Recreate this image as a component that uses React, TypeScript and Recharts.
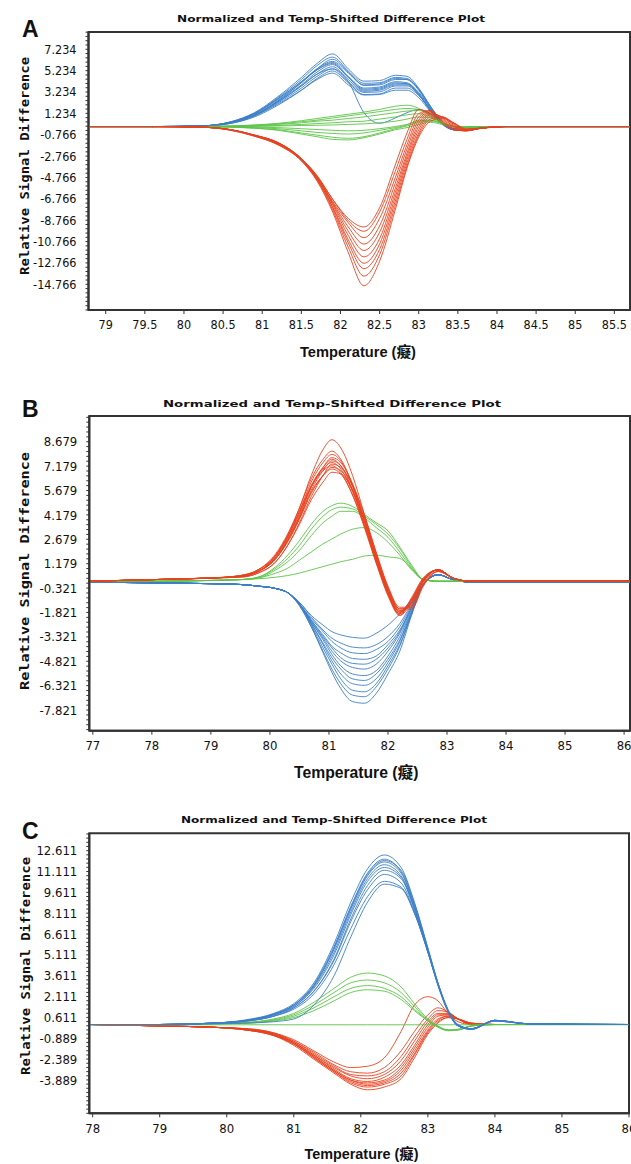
import React from 'react';
import { LineChart, Line, XAxis, YAxis, ReferenceArea } from 'recharts';

// ---------------- Panel A ----------------
const xA = [78.8, 79.6, 80.2, 80.6, 80.9, 81.2, 81.5, 81.7, 81.9, 82.1, 82.3, 82.5, 82.7, 82.85, 83.0, 83.15, 83.3, 83.45, 83.6, 83.8, 84.1, 85.7];
const blueA = [
  [0, 0, 0.05, 0.45, 1.3, 2.8, 4.6, 5.9, 6.8, 5.4, 4.25, 4.3, 4.8, 4.7, 3.6, 1.9, 0.4, -0.3, -0.35, -0.15, 0, 0],
  [0, 0, 0.05, 0.4, 1.2, 2.7, 4.4, 5.7, 6.5, 5.2, 4.05, 4.1, 4.6, 4.5, 3.5, 1.8, 0.35, -0.3, -0.35, -0.15, 0, 0],
  [0, 0, 0.03, 0.3, 1.0, 2.4, 4.1, 5.4, 6.3, 5.1, 3.85, 3.9, 4.4, 4.4, 3.5, 1.9, 0.45, -0.25, -0.35, -0.15, 0, 0],
  [0, 0, 0.05, 0.4, 1.2, 2.5, 4.1, 5.3, 6.0, 4.7, 3.6, 3.7, 4.2, 4.1, 3.1, 1.5, 0.2, -0.3, -0.35, -0.15, 0, 0],
  [0, 0, 0.04, 0.35, 1.1, 2.4, 3.9, 5.1, 5.8, 4.6, 3.5, 3.6, 4.1, 4.0, 3.0, 1.5, 0.25, -0.3, -0.3, -0.1, 0, 0],
  [0, 0, 0.05, 0.4, 1.1, 2.3, 3.8, 4.9, 5.6, 4.4, 3.3, 3.4, 3.9, 3.9, 3.0, 1.5, 0.3, -0.25, -0.3, -0.1, 0, 0],
  [0, 0, 0.04, 0.35, 1.0, 2.2, 3.6, 4.7, 5.4, 4.2, 3.2, 3.25, 3.8, 3.8, 3.0, 1.6, 0.35, -0.25, -0.3, -0.1, 0, 0],
  [0, 0, 0.03, 0.3, 0.9, 2.0, 3.4, 4.5, 5.2, 4.1, 3.0, 3.05, 3.6, 3.6, 2.9, 1.6, 0.4, -0.2, -0.3, -0.1, 0, 0],
  [0, 0, 0.04, 0.35, 1.0, 2.1, 3.4, 4.4, 5.0, 3.9, 2.95, 3.0, 3.4, 3.4, 2.7, 1.4, 0.3, -0.25, -0.3, -0.1, 0, 0],
  [0, 0, 0.05, 0.4, 1.1, 2.3, 3.8, 4.9, 5.4, 4.2, 1.3, 0.3, 0.8, 1.3, 1.6, 1.2, 0.3, -0.2, -0.25, -0.1, 0, 0],
  [0, 0, 0.05, 0.4, 1.2, 2.6, 4.2, 5.4, 6.1, 5.0, 3.9, 4.0, 4.5, 4.4, 3.4, 1.7, 0.3, -0.3, -0.35, -0.15, 0, 0],
  [0, 0, 0.05, 0.45, 1.25, 2.6, 4.2, 5.3, 5.9, 4.6, 3.4, 3.5, 4.0, 4.0, 3.2, 1.7, 0.35, -0.3, -0.3, -0.1, 0, 0],
];
const greenA = [
  [0, 0, 0, 0.05, 0.15, 0.3, 0.55, 0.75, 0.95, 1.15, 1.35, 1.6, 1.9, 2.0, 1.7, 1.0, 0.3, 0, -0.1, 0, 0, 0],
  [0, 0, 0, 0.05, 0.12, 0.25, 0.45, 0.6, 0.8, 1.0, 1.2, 1.4, 1.6, 1.7, 1.6, 1.1, 0.4, 0, -0.1, 0, 0, 0],
  [0, 0, 0, 0.03, 0.1, 0.2, 0.35, 0.5, 0.6, 0.75, 0.9, 1.1, 1.3, 1.45, 1.5, 1.1, 0.4, 0, -0.1, 0, 0, 0],
  [0, 0, 0, 0.02, 0.05, 0.1, 0.2, 0.28, 0.35, 0.45, 0.5, 0.7, 0.9, 1.1, 1.2, 0.9, 0.4, 0, -0.1, 0, 0, 0],
  [0, 0, 0, 0, 0.02, 0.05, 0.1, 0.12, 0.15, 0.2, 0.25, 0.35, 0.5, 0.7, 0.9, 0.8, 0.35, 0, -0.05, 0, 0, 0],
  [0, 0, 0, -0.02, -0.05, -0.1, -0.2, -0.28, -0.35, -0.4, -0.35, -0.2, 0.0, 0.2, 0.5, 0.6, 0.3, 0, -0.05, 0, 0, 0],
  [0, 0, 0, -0.03, -0.1, -0.2, -0.4, -0.55, -0.65, -0.7, -0.6, -0.35, -0.1, 0.15, 0.6, 0.6, 0.3, 0, -0.05, 0, 0, 0],
  [0, 0, 0, -0.05, -0.15, -0.3, -0.6, -0.8, -1.0, -1.1, -0.95, -0.6, -0.2, 0.05, 0.4, 0.5, 0.3, 0, -0.05, 0, 0, 0],
  [0, 0, 0, -0.05, -0.15, -0.35, -0.7, -0.95, -1.2, -1.25, -1.05, -0.7, -0.3, -0.1, 0.2, 0.4, 0.2, 0, -0.05, 0, 0, 0],
];
const redA = [
  [0, 0, -0.05, -0.3, -0.8, -1.5, -3.0, -4.6, -6.8, -8.6, -9.4, -7.6, -3.6, -0.6, 1.6, 1.2, 0.3, -0.3, -0.4, -0.15, 0, 0],
  [0, 0, -0.05, -0.3, -0.8, -1.5, -3.0, -4.6, -6.8, -8.8, -9.8, -8.0, -4.2, -1.2, 1.2, 1.5, 0.5, -0.3, -0.4, -0.15, 0, 0],
  [0, 0, -0.05, -0.3, -0.8, -1.5, -3.0, -4.7, -7.0, -9.0, -10.4, -8.6, -4.8, -1.7, 0.9, 1.5, 0.6, -0.2, -0.4, -0.15, 0, 0],
  [0, 0, -0.05, -0.3, -0.8, -1.5, -3.0, -4.7, -7.1, -9.4, -11.0, -9.3, -5.3, -2.1, 0.6, 1.4, 0.7, -0.1, -0.4, -0.15, 0, 0],
  [0, 0, -0.05, -0.3, -0.85, -1.6, -3.1, -4.8, -7.2, -9.8, -11.6, -9.9, -5.8, -2.5, 0.3, 1.3, 0.8, 0, -0.35, -0.15, 0, 0],
  [0, 0, -0.05, -0.3, -0.85, -1.6, -3.1, -4.8, -7.3, -10.2, -12.2, -10.5, -6.2, -2.8, 0.0, 1.2, 0.9, 0.1, -0.35, -0.15, 0, 0],
  [0, 0, -0.05, -0.3, -0.85, -1.6, -3.1, -4.9, -7.5, -10.6, -12.8, -11.0, -6.6, -3.1, -0.3, 1.1, 0.9, 0.2, -0.3, -0.15, 0, 0],
  [0, 0, -0.05, -0.3, -0.85, -1.6, -3.1, -4.9, -7.6, -10.9, -13.3, -11.5, -7.0, -3.4, -0.6, 0.9, 0.9, 0.3, -0.3, -0.15, 0, 0],
  [0, 0, -0.05, -0.35, -0.9, -1.7, -3.2, -5.0, -7.8, -11.3, -14.0, -12.0, -7.4, -3.7, -0.8, 0.7, 0.9, 0.3, -0.25, -0.15, 0, 0],
  [0, 0, -0.05, -0.35, -0.9, -1.7, -3.2, -5.1, -8.0, -11.8, -14.9, -12.6, -7.8, -3.9, -1.0, 0.5, 0.8, 0.35, -0.2, -0.15, 0, 0],
];
const xTicksA = [79, 79.5, 80, 80.5, 81, 81.5, 82, 82.5, 83, 83.5, 84, 84.5, 85, 85.5];
const yTicksA = [7.234, 5.234, 3.234, 1.234, -0.766, -2.766, -4.766, -6.766, -8.766, -10.766, -12.766, -14.766];

// ---------------- Panel B ----------------
const xB = [76.95, 78.0, 79.0, 79.5, 79.8, 80.1, 80.3, 80.5, 80.7, 80.9, 81.05, 81.2, 81.4, 81.6, 81.8, 82.0, 82.2, 82.4, 82.6, 82.85, 83.1, 83.4, 84.0, 86.1];
const blueB = [
  [0.05, 0, -0.05, -0.1, -0.2, -0.35, -0.6, -1.4, -2.7, -4.3, -5.5, -6.5, -7.3, -7.4, -6.8, -5.6, -4.2, -2.0, -0.1, 0.5, 0.2, 0.05, 0.05, 0.05],
  [0.05, 0, -0.05, -0.1, -0.2, -0.35, -0.6, -1.4, -2.7, -4.2, -5.3, -6.2, -6.9, -7.0, -6.4, -5.3, -3.9, -1.9, -0.1, 0.5, 0.2, 0.05, 0.05, 0.05],
  [0.05, 0, -0.05, -0.1, -0.2, -0.35, -0.6, -1.3, -2.6, -4.0, -5.0, -5.9, -6.6, -6.7, -6.2, -5.1, -3.8, -1.9, -0.1, 0.5, 0.2, 0.05, 0.05, 0.05],
  [0.05, 0, -0.05, -0.1, -0.2, -0.35, -0.6, -1.3, -2.5, -3.8, -4.8, -5.6, -6.2, -6.3, -5.9, -4.9, -3.6, -1.8, -0.1, 0.5, 0.2, 0.05, 0.05, 0.05],
  [0.05, 0, -0.05, -0.1, -0.2, -0.35, -0.6, -1.3, -2.5, -3.7, -4.6, -5.3, -5.9, -6.0, -5.6, -4.7, -3.5, -1.8, -0.1, 0.5, 0.2, 0.05, 0.05, 0.05],
  [0.05, 0, -0.05, -0.1, -0.2, -0.35, -0.6, -1.3, -2.4, -3.5, -4.4, -5.1, -5.6, -5.7, -5.4, -4.5, -3.3, -1.7, -0.1, 0.5, 0.2, 0.05, 0.05, 0.05],
  [0.05, 0, -0.05, -0.1, -0.2, -0.35, -0.6, -1.3, -2.4, -3.4, -4.2, -4.8, -5.2, -5.3, -5.0, -4.2, -3.1, -1.6, -0.1, 0.5, 0.2, 0.05, 0.05, 0.05],
  [0.05, 0, -0.05, -0.1, -0.2, -0.35, -0.6, -1.3, -2.3, -3.3, -4.0, -4.6, -4.95, -5.0, -4.7, -4.0, -3.0, -1.5, -0.1, 0.5, 0.2, 0.05, 0.05, 0.05],
  [0.05, 0, -0.05, -0.1, -0.2, -0.35, -0.6, -1.3, -2.3, -3.2, -3.9, -4.3, -4.65, -4.7, -4.5, -3.8, -2.9, -1.5, -0.1, 0.5, 0.2, 0.05, 0.05, 0.05],
  [0.05, 0, -0.05, -0.1, -0.2, -0.35, -0.6, -1.3, -2.2, -3.0, -3.6, -4.0, -4.3, -4.35, -4.1, -3.6, -2.7, -1.4, -0.1, 0.5, 0.2, 0.05, 0.05, 0.05],
  [0.05, 0, -0.05, -0.1, -0.2, -0.35, -0.6, -1.2, -2.1, -2.9, -3.4, -3.7, -3.95, -4.0, -3.8, -3.3, -2.5, -1.3, -0.1, 0.5, 0.2, 0.05, 0.05, 0.05],
  [0.05, 0, -0.05, -0.1, -0.2, -0.35, -0.6, -1.2, -2.0, -2.6, -3.0, -3.2, -3.35, -3.4, -3.1, -2.6, -1.9, -1.0, -0.1, 0.5, 0.2, 0.05, 0.05, 0.05],
];
const greenB = [
  [0.1, 0.1, 0.15, 0.2, 0.35, 1.0, 1.7, 2.6, 3.6, 4.4, 4.75, 4.9, 4.7, 4.2, 3.7, 3.2, 2.2, 1.1, 0.2, 0.1, 0.1, 0.1, 0.1, 0.1],
  [0.1, 0.1, 0.15, 0.2, 0.35, 0.9, 1.5, 2.3, 3.3, 4.1, 4.5, 4.65, 4.55, 4.1, 3.6, 3.0, 2.1, 1.0, 0.2, 0.1, 0.1, 0.1, 0.1, 0.1],
  [0.1, 0.1, 0.15, 0.2, 0.3, 0.8, 1.3, 2.0, 2.9, 3.7, 4.1, 4.4, 4.4, 4.0, 3.4, 2.8, 1.9, 0.9, 0.2, 0.1, 0.1, 0.1, 0.1, 0.1],
  [0.1, 0.1, 0.15, 0.2, 0.3, 0.6, 0.9, 1.4, 1.9, 2.4, 2.7, 3.0, 3.3, 3.4, 3.1, 2.5, 1.7, 0.8, 0.2, 0.1, 0.1, 0.1, 0.1, 0.1],
  [0.1, 0.1, 0.15, 0.2, 0.25, 0.35, 0.45, 0.6, 0.8, 1.0, 1.15, 1.3, 1.45, 1.65, 1.7, 1.6, 1.5, 0.9, 0.2, 0.1, 0.1, 0.1, 0.1, 0.1],
];
const redB = [
  [0.1, 0.2, 0.3, 0.4, 0.7, 1.7, 2.9, 4.6, 6.6, 8.2, 8.8, 8.3, 6.6, 4.2, 1.6, -0.6, -2.0, -1.2, 0.2, 0.8, 0.3, 0.1, 0.1, 0.1],
  [0.1, 0.2, 0.3, 0.45, 0.8, 1.8, 3.0, 4.6, 6.4, 7.6, 8.1, 7.6, 6.0, 3.8, 1.4, -0.7, -1.9, -1.1, 0.2, 0.8, 0.3, 0.1, 0.1, 0.1],
  [0.1, 0.2, 0.3, 0.4, 0.7, 1.6, 2.8, 4.4, 6.2, 7.4, 7.9, 7.5, 6.0, 3.9, 1.6, -0.5, -1.8, -1.2, 0.1, 0.8, 0.3, 0.1, 0.1, 0.1],
  [0.1, 0.2, 0.3, 0.4, 0.7, 1.5, 2.6, 4.1, 5.9, 7.1, 7.7, 7.4, 6.1, 4.1, 1.8, -0.3, -1.6, -1.4, 0.0, 0.7, 0.3, 0.1, 0.1, 0.1],
  [0.1, 0.2, 0.3, 0.45, 0.8, 1.7, 2.9, 4.4, 6.0, 7.1, 7.6, 7.2, 5.7, 3.6, 1.3, -0.7, -1.9, -1.0, 0.2, 0.8, 0.3, 0.1, 0.1, 0.1],
  [0.1, 0.2, 0.3, 0.4, 0.7, 1.5, 2.6, 4.0, 5.7, 6.9, 7.5, 7.2, 5.9, 3.9, 1.6, -0.4, -1.7, -1.3, 0.1, 0.8, 0.3, 0.1, 0.1, 0.1],
  [0.1, 0.2, 0.3, 0.4, 0.7, 1.6, 2.7, 4.2, 5.9, 7.0, 7.4, 7.0, 5.6, 3.6, 1.4, -0.6, -1.8, -1.0, 0.3, 0.8, 0.3, 0.1, 0.1, 0.1],
  [0.1, 0.2, 0.3, 0.35, 0.6, 1.3, 2.3, 3.7, 5.3, 6.6, 7.3, 7.1, 6.0, 4.2, 1.9, -0.2, -1.5, -1.5, -0.1, 0.7, 0.3, 0.1, 0.1, 0.1],
  [0.1, 0.2, 0.3, 0.45, 0.8, 1.7, 2.8, 4.3, 5.9, 6.9, 7.2, 6.8, 5.4, 3.4, 1.2, -0.8, -2.0, -0.9, 0.3, 0.8, 0.3, 0.1, 0.1, 0.1],
  [0.1, 0.2, 0.3, 0.4, 0.7, 1.5, 2.5, 3.9, 5.5, 6.6, 7.1, 6.9, 5.7, 3.8, 1.6, -0.4, -1.7, -1.2, 0.1, 0.8, 0.3, 0.1, 0.1, 0.1],
  [0.1, 0.2, 0.3, 0.4, 0.7, 1.5, 2.6, 4.0, 5.6, 6.6, 7.0, 6.7, 5.4, 3.5, 1.3, -0.6, -1.8, -1.1, 0.2, 0.8, 0.3, 0.1, 0.1, 0.1],
  [0.1, 0.2, 0.3, 0.35, 0.6, 1.3, 2.3, 3.6, 5.1, 6.2, 6.8, 6.7, 5.7, 3.9, 1.8, -0.3, -1.6, -1.6, -0.2, 0.7, 0.3, 0.1, 0.1, 0.1],
];
const xTicksB = [77, 78, 79, 80, 81, 82, 83, 84, 85, 86];
const yTicksB = [8.679, 7.179, 5.679, 4.179, 2.679, 1.179, -0.321, -1.821, -3.321, -4.821, -6.321, -7.821];

// ---------------- Panel C ----------------
const xC = [77.95, 79.0, 79.8, 80.3, 80.7, 81.0, 81.3, 81.6, 81.85, 82.1, 82.35, 82.6, 82.8, 83.0, 83.15, 83.3, 83.45, 83.65, 84.0, 84.5, 86.0];
const blueC = [
  [0.1, 0.1, 0.2, 0.45, 0.9, 1.6, 3.1, 5.9, 8.9, 11.3, 12.3, 11.4, 8.9, 5.6, 3.1, 1.1, 0.0, -0.25, 0.4, 0.15, 0.1],
  [0.1, 0.1, 0.2, 0.4, 0.85, 1.5, 3.0, 5.7, 8.6, 11.0, 12.0, 11.1, 8.7, 5.5, 3.0, 1.1, 0.0, -0.25, 0.4, 0.15, 0.1],
  [0.1, 0.1, 0.2, 0.4, 0.8, 1.5, 2.9, 5.5, 8.4, 10.8, 11.8, 11.0, 8.6, 5.4, 3.0, 1.1, 0.0, -0.2, 0.4, 0.15, 0.1],
  [0.1, 0.1, 0.2, 0.4, 0.8, 1.4, 2.8, 5.3, 8.2, 10.6, 11.6, 10.8, 8.5, 5.4, 3.0, 1.1, 0.05, -0.2, 0.4, 0.15, 0.1],
  [0.1, 0.1, 0.2, 0.4, 0.8, 1.4, 2.7, 5.1, 8.0, 10.4, 11.4, 10.7, 8.4, 5.3, 2.9, 1.0, 0.0, -0.2, 0.4, 0.15, 0.1],
  [0.1, 0.1, 0.2, 0.35, 0.7, 1.3, 2.5, 4.8, 7.7, 10.1, 11.2, 10.6, 8.4, 5.4, 3.0, 1.1, 0.05, -0.2, 0.4, 0.15, 0.1],
  [0.1, 0.1, 0.2, 0.35, 0.7, 1.3, 2.5, 4.7, 7.5, 9.8, 10.9, 10.3, 8.2, 5.3, 3.0, 1.1, 0.05, -0.2, 0.35, 0.15, 0.1],
  [0.1, 0.1, 0.2, 0.35, 0.7, 1.2, 2.3, 4.4, 7.0, 9.3, 10.4, 10.0, 8.1, 5.3, 3.0, 1.1, 0.05, -0.2, 0.35, 0.15, 0.1],
  [0.1, 0.1, 0.15, 0.2, 0.3, 0.5, 1.5, 3.6, 6.4, 8.9, 10.2, 9.9, 8.1, 5.4, 3.1, 1.2, 0.1, -0.2, 0.35, 0.15, 0.1],
  [0.1, 0.1, 0.2, 0.4, 0.85, 1.5, 2.9, 5.6, 8.5, 10.9, 11.9, 11.2, 8.8, 5.6, 3.1, 1.1, 0.0, -0.25, 0.4, 0.15, 0.1],
];
const greenC = [
  [0.1, 0.1, 0.15, 0.25, 0.5, 0.9, 1.7, 2.7, 3.5, 3.8, 3.6, 2.8, 1.6, 0.5, 0.0, -0.3, -0.3, 0.0, 0.1, 0.1, 0.1],
  [0.1, 0.1, 0.15, 0.25, 0.45, 0.8, 1.5, 2.4, 3.1, 3.3, 3.1, 2.4, 1.4, 0.4, -0.1, -0.35, -0.3, 0.0, 0.1, 0.1, 0.1],
  [0.1, 0.1, 0.15, 0.2, 0.4, 0.7, 1.3, 2.1, 2.7, 2.9, 2.7, 2.1, 1.2, 0.4, -0.05, -0.3, -0.25, 0.0, 0.1, 0.1, 0.1],
  [0.1, 0.1, 0.15, 0.2, 0.35, 0.6, 1.1, 1.8, 2.4, 2.6, 2.5, 1.9, 1.1, 0.35, -0.05, -0.3, -0.25, 0.0, 0.1, 0.1, 0.1],
  [0.08, 0.08, 0.08, 0.08, 0.08, 0.08, 0.08, 0.08, 0.08, 0.08, 0.08, 0.08, 0.08, 0.08, 0.08, 0.08, 0.08, 0.08, 0.08, 0.08, 0.08],
];
const redC = [
  [0.1, 0.0, -0.1, -0.2, -0.5, -1.0, -1.8, -2.6, -3.0, -2.9, -2.3, -0.4, 1.5, 2.1, 1.8, 0.9, 0.3, 0.1, 0.1, 0.1, 0.1],
  [0.1, 0.0, -0.1, -0.2, -0.5, -1.1, -1.9, -2.8, -3.3, -3.4, -3.0, -1.8, -0.4, 0.8, 1.3, 1.0, 0.5, 0.1, 0.1, 0.1, 0.1],
  [0.1, 0.0, -0.1, -0.25, -0.55, -1.1, -2.0, -2.9, -3.5, -3.6, -3.3, -2.2, -0.8, 0.5, 1.1, 1.0, 0.5, 0.1, 0.1, 0.1, 0.1],
  [0.1, 0.0, -0.1, -0.25, -0.6, -1.2, -2.1, -3.0, -3.6, -3.8, -3.5, -2.5, -1.1, 0.3, 0.9, 0.9, 0.5, 0.15, 0.1, 0.1, 0.1],
  [0.1, 0.0, -0.1, -0.25, -0.6, -1.2, -2.1, -3.1, -3.8, -4.0, -3.7, -2.8, -1.4, 0.1, 0.8, 0.8, 0.5, 0.15, 0.1, 0.1, 0.1],
  [0.1, 0.0, -0.1, -0.25, -0.6, -1.2, -2.2, -3.2, -3.9, -4.1, -3.9, -3.0, -1.6, -0.1, 0.7, 0.8, 0.5, 0.15, 0.1, 0.1, 0.1],
  [0.1, 0.0, -0.1, -0.3, -0.65, -1.3, -2.2, -3.2, -3.9, -4.2, -4.0, -3.2, -1.8, -0.3, 0.5, 0.7, 0.5, 0.15, 0.1, 0.1, 0.1],
  [0.1, 0.0, -0.1, -0.3, -0.65, -1.3, -2.3, -3.3, -4.0, -4.3, -4.1, -3.4, -2.0, -0.4, 0.4, 0.7, 0.5, 0.2, 0.1, 0.1, 0.1],
  [0.1, 0.0, -0.1, -0.3, -0.7, -1.3, -2.3, -3.3, -4.1, -4.4, -4.2, -3.6, -2.1, -0.5, 0.3, 0.6, 0.5, 0.2, 0.1, 0.1, 0.1],
  [0.1, 0.0, -0.1, -0.3, -0.7, -1.4, -2.4, -3.4, -4.2, -4.6, -4.4, -3.8, -2.3, -0.6, 0.2, 0.6, 0.5, 0.2, 0.1, 0.1, 0.1],
];
const xTicksC = [78, 79, 80, 81, 82, 83, 84, 85, 86];
const yTicksC = [12.611, 11.111, 9.611, 8.111, 6.611, 5.111, 3.611, 2.111, 0.611, -0.889, -2.389, -3.889];

// ---------------- text ----------------
const TITLE = 'Normalized and Temp-Shifted Difference Plot';
const Y_LABEL = 'Relative Signal Difference';
const X_LABEL = 'Temperature (癡)';

const BLUE = '#3d80c8';
const GREEN = '#5cc447';
const RED = '#e8431f';
const AXIS = '#333';
const TICK_FONT = "'Liberation Sans Narrow', 'Arial Narrow', 'DejaVu Sans Condensed', sans-serif";

type Group = { key: string; color: string; curves: number[][] };

function buildRows(xs: number[], groups: Group[]) {
  return xs.map((x, i) => {
    const row: Record<string, number> = { x };
    groups.forEach((g) => g.curves.forEach((c, j) => { row[g.key + j] = c[i]; }));
    return row;
  });
}

function yTickList(majors: number[], domain: number[]) {
  const sorted = [...majors].sort((a, b) => a - b);
  const step = sorted[1] - sorted[0];
  const minor = step / 5;
  const base = sorted[0];
  const out: number[] = [];
  const kStart = Math.ceil((domain[0] - base) / minor - 1e-9);
  const kEnd = Math.floor((domain[1] - base) / minor + 1e-9);
  for (let k = kStart; k <= kEnd; k++) out.push(Math.round((base + k * minor) * 10000) / 10000);
  return out;
}

type PanelProps = {
  top: number; height: number;
  margin: { top: number; right: number; bottom: number; left: number };
  yWidth: number;
  xs: number[]; groups: Group[];
  xDomain: number[]; yDomain: number[];
  xTicks: number[]; yMajors: number[];
  tickFont: number;
};

function Panel(p: PanelProps) {
  const rows = buildRows(p.xs, p.groups);
  const yTicks = yTickList(p.yMajors, p.yDomain);
  const isMajor = (v: number) => p.yMajors.some((m) => Math.abs(m - v) < 1e-3);
  return (
    <div style={{ position: 'absolute', left: 0, top: p.top, width: 631, height: p.height }}>
      <LineChart width={631} height={p.height} data={rows} margin={p.margin}>
        <XAxis
          type="number" dataKey="x" domain={p.xDomain} ticks={p.xTicks} interval={0}
          allowDataOverflow height={30}
          axisLine={{ stroke: AXIS, strokeWidth: 2 }} tickLine={{ stroke: AXIS }}
          tickSize={4} tickMargin={6}
          tick={{ fontSize: p.tickFont, fill: '#111', fontFamily: TICK_FONT }}
          tickFormatter={(v: number) => String(v)}
        />
        <YAxis
          type="number" domain={p.yDomain} ticks={yTicks} interval={0}
          allowDataOverflow width={p.yWidth}
          axisLine={{ stroke: AXIS, strokeWidth: 2 }} tickLine={{ stroke: AXIS }}
          tickSize={3} tickMargin={9}
          tick={{ fontSize: p.tickFont, fill: '#111', fontFamily: TICK_FONT }}
          tickFormatter={(v: number) => (isMajor(v) ? v.toFixed(3) : '')}
        />
        <ReferenceArea
          x1={p.xDomain[0]} x2={p.xDomain[1]} y1={p.yDomain[0]} y2={p.yDomain[1]}
          fill="none" fillOpacity={0} stroke={AXIS} strokeWidth={2} ifOverflow="visible"
        />
        {p.groups.map((g) =>
          g.curves.map((_, j) => (
            <Line
              key={g.key + j} dataKey={g.key + j} type="monotone" stroke={g.color}
              strokeWidth={1} dot={false} activeDot={false} isAnimationActive={false}
              strokeOpacity={0.9}
            />
          ))
        )}
      </LineChart>
    </div>
  );
}

function Overlay() {
  const letter = { fontFamily: "'Liberation Sans', Arial, sans-serif", fontWeight: 700, fontSize: 23, fill: '#111' } as const;
  const title = { fontFamily: "'DejaVu Sans', sans-serif", fontWeight: 700, fontSize: 9.5, fill: '#111' } as const;
  const ylab = { fontFamily: "'DejaVu Sans Mono', monospace", fontWeight: 700, fontSize: 12.5, fill: '#111' } as const;
  const xlab = { fontFamily: "'Liberation Sans', Arial, 'Noto Sans CJK SC', sans-serif", fontWeight: 700, fill: '#111' } as const;
  return (
    <svg width={631} height={1164} style={{ position: 'absolute', left: 0, top: 0, pointerEvents: 'none' }}>
      <text x={22} y={36.5} style={letter}>A</text>
      <text x={22} y={417} style={letter}>B</text>
      <text x={22} y={839} style={letter}>C</text>

      <text x={177} y={22} style={title} textLength={308} lengthAdjust="spacingAndGlyphs">{TITLE}</text>
      <text x={163} y={406.5} style={title} textLength={338} lengthAdjust="spacingAndGlyphs">{TITLE}</text>
      <text x={181} y={823} style={title} textLength={306} lengthAdjust="spacingAndGlyphs">{TITLE}</text>

      <text transform="translate(24,166) rotate(-90)" textAnchor="middle" dominantBaseline="central" style={ylab} textLength={218} lengthAdjust="spacingAndGlyphs">{Y_LABEL}</text>
      <text transform="translate(24,571) rotate(-90)" textAnchor="middle" dominantBaseline="central" style={ylab} textLength={238} lengthAdjust="spacingAndGlyphs">{Y_LABEL}</text>
      <text transform="translate(25,966) rotate(-90)" textAnchor="middle" dominantBaseline="central" style={ylab} textLength={218} lengthAdjust="spacingAndGlyphs">{Y_LABEL}</text>

      <text x={300} y={357} style={{ ...xlab, fontSize: 15 }} textLength={116} lengthAdjust="spacingAndGlyphs">{X_LABEL}</text>
      <text x={294} y={777.5} style={{ ...xlab, fontSize: 16 }} textLength={124.5} lengthAdjust="spacingAndGlyphs">{X_LABEL}</text>
      <text x={304.5} y={1159} style={{ ...xlab, fontSize: 15 }} textLength={114} lengthAdjust="spacingAndGlyphs">{X_LABEL}</text>
    </svg>
  );
}

export default function App() {
  const groupsA: Group[] = [
    { key: 'b', color: BLUE, curves: blueA },
    { key: 'g', color: GREEN, curves: greenA },
    { key: 'r', color: RED, curves: redA },
  ];
  const groupsB: Group[] = [
    { key: 'b', color: BLUE, curves: blueB },
    { key: 'g', color: GREEN, curves: greenB },
    { key: 'r', color: RED, curves: redB },
  ];
  const groupsC: Group[] = [
    { key: 'r', color: RED, curves: redC },
    { key: 'g', color: GREEN, curves: greenC },
    { key: 'b', color: BLUE, curves: blueC },
  ];
  return (
    <div style={{ position: 'absolute', left: 0, top: 0, width: 631, height: 1164, background: '#fff', overflow: 'hidden' }}>
      <Panel
        top={0} height={370} margin={{ top: 32, right: 1, bottom: 30, left: 8 }} yWidth={80.5}
        xs={xA} groups={groupsA} xDomain={[78.78, 85.7]} yDomain={[-17.17, 8.85]}
        xTicks={xTicksA} yMajors={yTicksA} tickFont={12.5}
      />
      <Panel
        top={385} height={400} margin={{ top: 31, right: 1, bottom: 24.3, left: 8 }} yWidth={81.3}
        xs={xB} groups={groupsB} xDomain={[76.94, 86.1]} yDomain={[-9.09, 10.26]}
        xTicks={xTicksB} yMajors={yTicksB} tickFont={13}
      />
      <Panel
        top={800} height={364} margin={{ top: 33.3, right: 2, bottom: 20.7, left: 8 }} yWidth={81.3}
        xs={xC} groups={groupsC} xDomain={[77.95, 86.0]} yDomain={[-6.29, 13.86]}
        xTicks={xTicksC} yMajors={yTicksC} tickFont={13}
      />
      <Overlay />
    </div>
  );
}
